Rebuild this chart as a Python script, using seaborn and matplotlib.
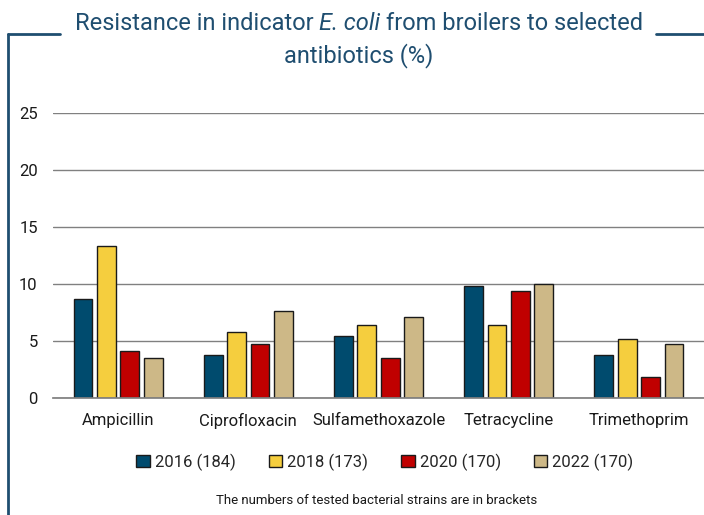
import matplotlib
matplotlib.use("Agg")
import matplotlib.pyplot as plt
import pandas as pd
import seaborn as sns
from matplotlib.lines import Line2D


ANTIBIOTICS = ["Ampicillin", "Ciprofloxacin", "Sulfamethoxazole", "Tetracycline", "Trimethoprim"]
YEARS = ["2016 (184)", "2018 (173)", "2020 (170)", "2022 (170)"]
VALUES_2016 = [8.7, 3.8, 5.4, 9.8, 3.8]
VALUES_2018 = [13.3, 5.8, 6.4, 6.4, 5.2]
VALUES_2020 = [4.1, 4.7, 3.5, 9.4, 1.8]
VALUES_2022 = [3.5, 7.6, 7.1, 10.0, 4.7]
COLORS = ["#004B6E", "#F5CE3E", "#C00000", "#CDB887"]
FRAME = "#1F4E70"


def main() -> None:
    sns.set_theme(style="white")
    plt.rcParams["font.family"] = ["Roboto", "DejaVu Sans"]

    rows = []
    for year, values in zip(YEARS, [VALUES_2016, VALUES_2018, VALUES_2020, VALUES_2022]):
        for name, v in zip(ANTIBIOTICS, values):
            rows.append({"antibiotic": name, "year": year, "value": v})
    df = pd.DataFrame(rows)

    fig = plt.figure(figsize=(7.04, 5.15), dpi=100)
    ax = fig.add_axes([53 / 704, 1 - 398 / 515, 651 / 704, 285 / 515])

    sns.barplot(
        data=df, x="antibiotic", y="value", hue="year",
        palette=COLORS, saturation=1, width=0.72, gap=0.2,
        edgecolor="#1a1a1a", linewidth=1.0, ax=ax, legend=True,
    )

    ax.set_ylim(0, 25)
    ax.set_yticks(range(0, 26, 5))
    ax.yaxis.grid(True, color="#808080", linewidth=1.0)
    ax.set_axisbelow(True)
    for side in ["top", "right", "left"]:
        ax.spines[side].set_visible(False)
    ax.spines["bottom"].set_color("#808080")
    ax.set_xlabel("")
    ax.set_ylabel("")
    ax.tick_params(axis="both", length=0, labelsize=12, colors="#1a1a1a")
    ax.tick_params(axis="y", pad=11)
    ax.tick_params(axis="x", pad=11)

    handles, labels = ax.get_legend_handles_labels()
    ax.legend_.remove()
    fig.legend(
        handles, labels, loc="center", bbox_to_anchor=(385 / 704, 1 - 462 / 515),
        ncol=4, frameon=False, fontsize=12, handlelength=0.8, handleheight=0.8,
        handletextpad=0.3, columnspacing=2.0,
    )

    fig.text(377 / 704, 1 - 500 / 515, "The numbers of tested bacterial strains are in brackets",
             ha="center", va="center", fontsize=9.5, color="#1a1a1a")

    # title, first line in three pieces for the italic part
    fig.canvas.draw()
    renderer = fig.canvas.get_renderer()
    y1 = 1 - 24 / 515
    parts = [("Resistance in indicator ", "normal"), ("E. coli", "italic"),
             (" from broilers to selected", "normal")]
    texts = [fig.text(0, y1, s, fontsize=17, style=st, color=FRAME, va="center") for s, st in parts]
    widths = [t.get_window_extent(renderer).width for t in texts]
    x = 359 - sum(widths) / 2
    for t, w in zip(texts, widths):
        t.set_x(x / 704)
        x += w
    fig.text(359 / 704, 1 - 56 / 515, "antibiotics (%)", fontsize=17, color=FRAME,
             ha="center", va="center")

    # frame around the chart
    fy = 1 - 34 / 515
    fig.add_artist(Line2D([8 / 704, 60 / 704], [fy, fy], color=FRAME, linewidth=2))
    fig.add_artist(Line2D([8 / 704, 8 / 704], [fy, 0], color=FRAME, linewidth=2))
    fig.add_artist(Line2D([656 / 704, 1], [fy, fy], color=FRAME, linewidth=2))

    fig.savefig("out.png", dpi=100)
    plt.close(fig)


if __name__ == "__main__":
    main()
